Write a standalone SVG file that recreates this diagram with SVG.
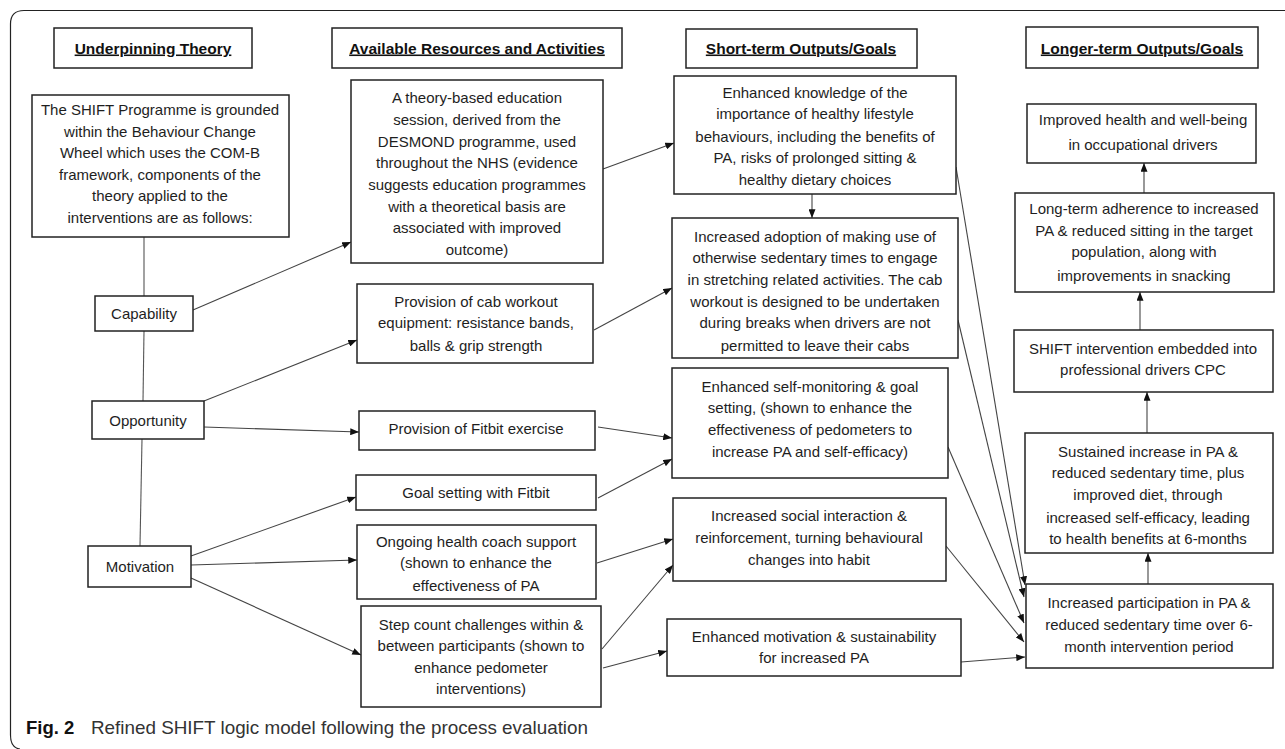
<svg xmlns="http://www.w3.org/2000/svg" width="1285" height="749" viewBox="0 0 1285 749">
<style>
.bx{fill:#fff;stroke:#222;stroke-width:1.5}
.t{font-family:"Liberation Sans",Arial,sans-serif;font-size:15px;fill:#1e1e1e;text-anchor:middle}
.h{font-family:"Liberation Sans",Arial,sans-serif;font-size:15.5px;font-weight:bold;fill:#111;text-anchor:middle;text-decoration:underline}
.ln{stroke:#555;stroke-width:1.1;fill:none}
.ar{stroke:#444;stroke-width:1.1;fill:none;marker-end:url(#ah)}
</style>
<defs>
<marker id="ah" viewBox="0 0 10 8" refX="10" refY="4" markerWidth="9" markerHeight="7" orient="auto" markerUnits="userSpaceOnUse"><path d="M0,0 L10,4 L0,8 z" fill="#111"/></marker>
</defs>
<rect width="1285" height="749" fill="#fff"/>
<path d="M1285 10.5 H24 Q10.5 10.5 10.5 24 V735 Q10.5 748 20 749" fill="none" stroke="#222" stroke-width="1.2"/>

<g id="connectors">
<line class="ln" x1="144" y1="237" x2="144" y2="296"/>
<line class="ln" x1="144" y1="331" x2="143" y2="401"/>
<line class="ln" x1="142" y1="439" x2="140" y2="546"/>
<line class="ar" x1="193" y1="310" x2="351" y2="242"/>
<line class="ar" x1="204" y1="401" x2="357" y2="340"/>
<line class="ar" x1="204" y1="427" x2="359" y2="432"/>
<line class="ar" x1="191" y1="556" x2="356" y2="497"/>
<line class="ar" x1="191" y1="565" x2="357" y2="560"/>
<line class="ar" x1="191" y1="578" x2="361" y2="655"/>
<line class="ar" x1="603" y1="169" x2="674" y2="143"/>
<line class="ar" x1="812" y1="194" x2="812" y2="218"/>
<line class="ar" x1="594" y1="330" x2="672" y2="288"/>
<line class="ar" x1="598" y1="427" x2="672" y2="438"/>
<line class="ar" x1="598" y1="498" x2="672" y2="459"/>
<line class="ar" x1="597" y1="563" x2="673" y2="539"/>
<line class="ar" x1="602" y1="649" x2="673" y2="565"/>
<line class="ar" x1="603" y1="668" x2="667" y2="651"/>
<line class="ar" x1="956" y1="167" x2="1025" y2="585"/>
<line class="ar" x1="958" y1="320" x2="1024" y2="597"/>
<line class="ar" x1="948" y1="447" x2="1024" y2="623"/>
<line class="ar" x1="946" y1="546" x2="1024" y2="642"/>
<line class="ar" x1="961" y1="662" x2="1025" y2="657"/>
<line class="ar" x1="1148" y1="584" x2="1148" y2="553"/>
<line class="ar" x1="1147" y1="433" x2="1147" y2="392"/>
<line class="ar" x1="1140" y1="330" x2="1140" y2="292"/>
<line class="ar" x1="1144" y1="193" x2="1144" y2="163"/>
</g>

<g id="hdr-theory"><rect class="bx" x="54" y="28" width="198" height="40"/><text class="h" x="153" y="53.5">Underpinning Theory</text></g>
<g id="hdr-resources"><rect class="bx" x="332" y="28" width="290" height="40"/><text class="h" x="477" y="53.5">Available Resources and Activities</text></g>
<g id="hdr-short"><rect class="bx" x="686" y="29" width="231" height="39"/><text class="h" x="801" y="53.5">Short-term Outputs/Goals</text></g>
<g id="hdr-long"><rect class="bx" x="1026" y="27" width="232" height="41"/><text class="h" x="1142" y="53.5">Longer-term Outputs/Goals</text></g>

<g id="theory"><rect class="bx" x="32" y="95" width="257" height="142"/>
<text class="t"><tspan x="160" y="115">The SHIFT Programme is grounded</tspan><tspan x="160" y="137">within the Behaviour Change</tspan><tspan x="160" y="158">Wheel which uses the COM-B</tspan><tspan x="160" y="180">framework, components of the</tspan><tspan x="160" y="201">theory applied to the</tspan><tspan x="160" y="223">interventions are as follows:</tspan></text></g>

<g id="capability"><rect class="bx" x="95" y="296" width="98" height="35"/><text class="t" x="144" y="318.5">Capability</text></g>
<g id="opportunity"><rect class="bx" x="92" y="401" width="112" height="38"/><text class="t" x="148" y="425.5">Opportunity</text></g>
<g id="motivation"><rect class="bx" x="88" y="546" width="103" height="41"/><text class="t" x="140" y="572">Motivation</text></g>

<g id="education"><rect class="bx" x="351" y="80" width="252" height="183"/>
<text class="t"><tspan x="477" y="103">A theory-based education</tspan><tspan x="477" y="125">session, derived from the</tspan><tspan x="477" y="146.5">DESMOND programme, used</tspan><tspan x="477" y="168">throughout the NHS (evidence</tspan><tspan x="477" y="190">suggests education programmes</tspan><tspan x="477" y="211.5">with a theoretical basis are</tspan><tspan x="477" y="233">associated with improved</tspan><tspan x="477" y="255">outcome)</tspan></text></g>

<g id="cab"><rect class="bx" x="357" y="284" width="236" height="79"/>
<text class="t"><tspan x="476" y="306.5">Provision of cab workout</tspan><tspan x="476" y="328">equipment: resistance bands,</tspan><tspan x="476" y="350.5">balls &amp; grip strength</tspan></text></g>

<g id="fitbit-ex"><rect class="bx" x="359" y="411" width="236" height="39"/><text class="t" x="476" y="434">Provision of Fitbit exercise</text></g>
<g id="goal-fitbit"><rect class="bx" x="356" y="475" width="240" height="35"/><text class="t" x="476" y="497.5">Goal setting with Fitbit</text></g>

<g id="coach"><rect class="bx" x="357" y="525" width="239" height="74"/>
<text class="t"><tspan x="476" y="546.5">Ongoing health coach support</tspan><tspan x="476" y="568">(shown to enhance the</tspan><tspan x="476" y="590.5">effectiveness of PA</tspan></text></g>

<g id="step"><rect class="bx" x="361" y="606" width="240" height="101"/>
<text class="t"><tspan x="481" y="630">Step count challenges within &amp;</tspan><tspan x="481" y="651">between participants (shown to</tspan><tspan x="481" y="672.5">enhance pedometer</tspan><tspan x="481" y="694">interventions)</tspan></text></g>

<g id="knowledge"><rect class="bx" x="674" y="76" width="282" height="118"/>
<text class="t"><tspan x="815" y="98">Enhanced knowledge of the</tspan><tspan x="815" y="119">importance of healthy lifestyle</tspan><tspan x="815" y="141.5">behaviours, including the benefits of</tspan><tspan x="815" y="163">PA, risks of prolonged sitting &amp;</tspan><tspan x="815" y="185">healthy dietary choices</tspan></text></g>

<g id="sedentary"><rect class="bx" x="672" y="218" width="286" height="140"/>
<text class="t"><tspan x="815" y="242">Increased adoption of making use of</tspan><tspan x="815" y="263">otherwise sedentary times to engage</tspan><tspan x="815" y="285">in stretching related activities. The cab</tspan><tspan x="815" y="306.5">workout is designed to be undertaken</tspan><tspan x="815" y="328">during breaks when drivers are not</tspan><tspan x="815" y="350.5">permitted to leave their cabs</tspan></text></g>

<g id="selfmon"><rect class="bx" x="672" y="368" width="276" height="110"/>
<text class="t"><tspan x="810" y="391.5">Enhanced self-monitoring &amp; goal</tspan><tspan x="810" y="413">setting, (shown to enhance the</tspan><tspan x="810" y="435">effectiveness of pedometers to</tspan><tspan x="810" y="456.5">increase PA and self-efficacy)</tspan></text></g>

<g id="social"><rect class="bx" x="673" y="498" width="273" height="83"/>
<text class="t"><tspan x="809" y="521">Increased social interaction &amp;</tspan><tspan x="809" y="543">reinforcement, turning behavioural</tspan><tspan x="809" y="565">changes into habit</tspan></text></g>

<g id="motiv-out"><rect class="bx" x="667" y="619" width="294" height="57"/>
<text class="t"><tspan x="814" y="641.5">Enhanced motivation &amp; sustainability</tspan><tspan x="814" y="663">for increased PA</tspan></text></g>

<g id="health"><rect class="bx" x="1027" y="104" width="229" height="59"/>
<text class="t"><tspan x="1143" y="125">Improved health and well-being</tspan><tspan x="1143" y="150">in occupational drivers</tspan></text></g>

<g id="longterm"><rect class="bx" x="1015" y="193" width="259" height="99"/>
<text class="t"><tspan x="1144" y="214">Long-term adherence to increased</tspan><tspan x="1144" y="236">PA &amp; reduced sitting in the target</tspan><tspan x="1144" y="256.5">population, along with</tspan><tspan x="1144" y="281">improvements in snacking</tspan></text></g>

<g id="cpc"><rect class="bx" x="1014" y="330" width="259" height="62"/>
<text class="t"><tspan x="1143" y="354">SHIFT intervention embedded into</tspan><tspan x="1143" y="375">professional drivers CPC</tspan></text></g>

<g id="sustained"><rect class="bx" x="1025" y="433" width="248" height="120"/>
<text class="t"><tspan x="1148" y="456.5">Sustained increase in PA &amp;</tspan><tspan x="1148" y="478">reduced sedentary time, plus</tspan><tspan x="1148" y="500">improved diet, through</tspan><tspan x="1148" y="523">increased self-efficacy, leading</tspan><tspan x="1148" y="544">to health benefits at 6-months</tspan></text></g>

<g id="participation"><rect class="bx" x="1026" y="584" width="247" height="84"/>
<text class="t"><tspan x="1149" y="608">Increased participation in PA &amp;</tspan><tspan x="1149" y="630">reduced sedentary time over 6-</tspan><tspan x="1149" y="651.5">month intervention period</tspan></text></g>

<g id="caption"><text x="26" y="734" font-family="'Liberation Sans',Arial,sans-serif" font-size="18.5" fill="#111" font-weight="bold">Fig. 2</text><text x="91" y="734" font-family="'Liberation Sans',Arial,sans-serif" font-size="18.5" fill="#333" textLength="497" lengthAdjust="spacingAndGlyphs">Refined SHIFT logic model following the process evaluation</text></g>
</svg>
